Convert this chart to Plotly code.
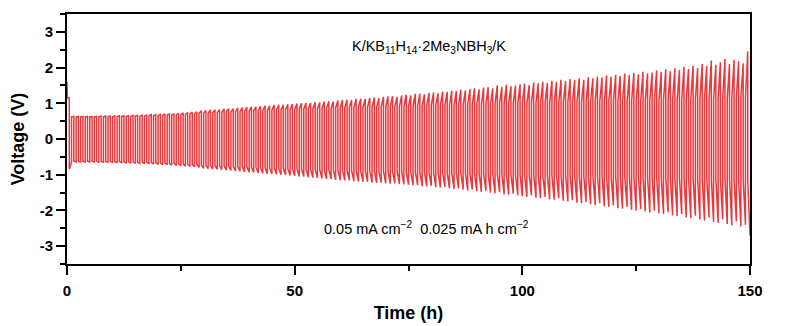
import plotly.graph_objects as go

# ---- data ----
period_h = 1.0          # one charge/discharge cycle (h)
lead_t = [0.0, 0.08]    # initial spike before cycling
lead_v = [1.60, 1.15]

# positive half-cycle: start (plateau) and end (peak) voltage per cycle
up_start = [
    1.15, 0.62, 0.62, 0.62, 0.62, 0.62, 0.62, 0.62, 0.62, 0.62,
    0.62, 0.63, 0.63, 0.63, 0.63, 0.64, 0.64, 0.64, 0.65, 0.65,
    0.66, 0.66, 0.67, 0.67, 0.68, 0.68, 0.69, 0.70, 0.70, 0.72,
    0.72, 0.73, 0.74, 0.74, 0.75, 0.76, 0.76, 0.77, 0.77, 0.78,
    0.78, 0.79, 0.79, 0.80, 0.80, 0.81, 0.81, 0.82, 0.82, 0.83,
    0.83, 0.84, 0.84, 0.85, 0.85, 0.85, 0.86, 0.86, 0.86, 0.87,
    0.87, 0.87, 0.88, 0.88, 0.88, 0.89, 0.89, 0.89, 0.90, 0.90,
    0.90, 0.91, 0.91, 0.91, 0.92, 0.92, 0.92, 0.93, 0.93, 0.93,
    0.94, 0.94, 0.94, 0.95, 0.95, 0.95, 0.96, 0.96, 0.96, 0.97,
    0.97, 0.97, 0.98, 0.98, 0.98, 0.99, 0.99, 0.99, 1.00, 1.00,
    1.00, 1.01, 1.01, 1.01, 1.02, 1.02, 1.02, 1.03, 1.03, 1.03,
    1.03, 1.04, 1.04, 1.04, 1.04, 1.05, 1.05, 1.05, 1.05, 1.06,
    1.06, 1.06, 1.06, 1.07, 1.07, 1.07, 1.07, 1.08, 1.08, 1.08,
    1.08, 1.09, 1.09, 1.09, 1.10, 1.10, 1.10, 1.11, 1.11, 1.11,
    1.12, 1.12, 1.12, 1.13, 1.13, 1.13, 1.14, 1.14, 1.15, 1.15,
]
up_end = [
    1.15, 0.63, 0.63, 0.63, 0.63, 0.63, 0.63, 0.64, 0.64, 0.64,
    0.64, 0.65, 0.65, 0.65, 0.66, 0.66, 0.67, 0.67, 0.68, 0.68,
    0.69, 0.70, 0.70, 0.71, 0.72, 0.73, 0.74, 0.75, 0.76, 0.79,
    0.80, 0.81, 0.82, 0.82, 0.84, 0.85, 0.85, 0.87, 0.88, 0.89,
    0.90, 0.90, 0.92, 0.93, 0.93, 0.95, 0.96, 0.96, 0.97, 0.98,
    0.99, 1.00, 1.01, 1.01, 1.03, 1.02, 1.05, 1.06, 1.05, 1.08,
    1.09, 1.10, 1.09, 1.12, 1.13, 1.12, 1.15, 1.16, 1.14, 1.18,
    1.19, 1.20, 1.18, 1.22, 1.24, 1.22, 1.26, 1.27, 1.25, 1.29,
    1.30, 1.28, 1.33, 1.32, 1.35, 1.34, 1.38, 1.36, 1.40, 1.42,
    1.39, 1.44, 1.45, 1.42, 1.50, 1.46, 1.52, 1.48, 1.50, 1.53,
    1.55, 1.51, 1.58, 1.56, 1.60, 1.57, 1.63, 1.60, 1.66, 1.62,
    1.68, 1.65, 1.70, 1.66, 1.73, 1.70, 1.75, 1.72, 1.78, 1.74,
    1.80, 1.76, 1.83, 1.79, 1.85, 1.81, 1.88, 1.84, 1.86, 1.92,
    1.88, 1.95, 1.90, 1.98, 1.93, 2.02, 1.96, 2.05, 1.99, 2.10,
    2.04, 2.20, 2.08, 2.15, 2.24, 2.10, 2.22, 2.18, 2.12, 2.45,
]
# negative half-cycle: start (plateau) and end (tip) voltage per cycle
dn_start = [
    -0.85, -0.62, -0.62, -0.62, -0.62, -0.62, -0.62, -0.63, -0.63, -0.63,
    -0.63, -0.63, -0.64, -0.64, -0.64, -0.65, -0.65, -0.65, -0.66, -0.66,
    -0.67, -0.67, -0.68, -0.68, -0.69, -0.69, -0.70, -0.71, -0.71, -0.73,
    -0.73, -0.74, -0.74, -0.75, -0.75, -0.76, -0.77, -0.77, -0.78, -0.78,
    -0.79, -0.79, -0.80, -0.80, -0.81, -0.81, -0.82, -0.82, -0.83, -0.83,
    -0.84, -0.84, -0.85, -0.85, -0.85, -0.86, -0.86, -0.86, -0.87, -0.87,
    -0.87, -0.88, -0.88, -0.88, -0.89, -0.89, -0.89, -0.90, -0.90, -0.90,
    -0.91, -0.91, -0.91, -0.92, -0.92, -0.92, -0.93, -0.93, -0.93, -0.94,
    -0.94, -0.94, -0.95, -0.95, -0.95, -0.96, -0.96, -0.96, -0.97, -0.97,
    -0.97, -0.98, -0.98, -0.98, -0.99, -0.99, -0.99, -1.00, -1.00, -1.00,
    -1.01, -1.01, -1.01, -1.02, -1.02, -1.02, -1.03, -1.03, -1.03, -1.03,
    -1.04, -1.04, -1.04, -1.04, -1.05, -1.05, -1.05, -1.05, -1.06, -1.06,
    -1.06, -1.06, -1.07, -1.07, -1.07, -1.07, -1.08, -1.08, -1.08, -1.08,
    -1.09, -1.09, -1.09, -1.10, -1.10, -1.10, -1.10, -1.11, -1.11, -1.11,
    -1.12, -1.12, -1.12, -1.13, -1.13, -1.13, -1.14, -1.14, -1.15, -1.15,
]
dn_end = [
    -0.64, -0.64, -0.64, -0.64, -0.64, -0.64, -0.65, -0.65, -0.65, -0.65,
    -0.66, -0.66, -0.67, -0.67, -0.68, -0.68, -0.69, -0.69, -0.70, -0.71,
    -0.72, -0.72, -0.73, -0.74, -0.75, -0.76, -0.77, -0.78, -0.80, -0.82,
    -0.83, -0.84, -0.85, -0.86, -0.87, -0.88, -0.89, -0.90, -0.92, -0.93,
    -0.94, -0.95, -0.96, -0.97, -0.98, -0.99, -1.00, -1.01, -1.02, -1.03,
    -1.05, -1.05, -1.07, -1.08, -1.09, -1.10, -1.12, -1.12, -1.14, -1.15,
    -1.16, -1.16, -1.18, -1.19, -1.20, -1.20, -1.22, -1.23, -1.22, -1.24,
    -1.25, -1.24, -1.26, -1.27, -1.28, -1.30, -1.29, -1.32, -1.33, -1.31,
    -1.35, -1.36, -1.34, -1.38, -1.40, -1.38, -1.42, -1.44, -1.41, -1.46,
    -1.48, -1.45, -1.50, -1.52, -1.49, -1.55, -1.56, -1.53, -1.58, -1.60,
    -1.62, -1.58, -1.64, -1.66, -1.62, -1.69, -1.70, -1.66, -1.73, -1.75,
    -1.71, -1.78, -1.80, -1.76, -1.83, -1.85, -1.80, -1.88, -1.90, -1.86,
    -1.93, -1.95, -1.90, -1.98, -2.00, -1.96, -2.03, -2.06, -2.01, -2.08,
    -2.10, -2.05, -2.14, -2.16, -2.10, -2.20, -2.22, -2.15, -2.25, -2.28,
    -2.20, -2.32, -2.35, -2.25, -2.38, -2.42, -2.30, -2.45, -2.40, -2.70,
]

x_ticks = [0, 50, 100, 150]
x_ticklabels = ["0", "50", "100", "150"]
y_ticks = [-3, -2, -1, 0, 1, 2, 3]
y_ticklabels = ["-3", "-2", "-1", "0", "1", "2", "3"]
cell_label = "K/KB<sub>11</sub>H<sub>14</sub>·2Me<sub>3</sub>NBH<sub>3</sub>/K"
cond_label = "0.05 mA cm<sup>−2</sup>  0.025 mA h cm<sup>−2</sup>"

# ---- build the voltage trace ----
ts = list(lead_t)
vs = list(lead_v)
half = period_h / 2
for k in range(len(up_start)):
    t0 = k * period_h
    if k > 0:
        ts.append(t0); vs.append(up_start[k])
    ts.append(t0 + half); vs.append(up_end[k])
    ts.append(t0 + half); vs.append(dn_start[k])
    ts.append(t0 + period_h); vs.append(dn_end[k])

RED = "#e63a3f"
fig = go.Figure()
fig.add_trace(go.Scatter(x=ts, y=vs, mode="lines",
                         line=dict(color=RED, width=1.5), showlegend=False,
                         hoverinfo="skip"))

FONT = "Liberation Sans, Arial, sans-serif"
axis_common = dict(
    showline=True, linecolor="black", linewidth=2, mirror=True,
    ticks="outside", ticklen=9, tickwidth=1.5, tickcolor="black",
    showgrid=False, zeroline=False, automargin=False,
    tickfont=dict(family=FONT, size=15, color="black", weight="bold"),
)
fig.update_xaxes(range=[0, 150], tickvals=x_ticks, ticktext=x_ticklabels,
                 ticklabelstandoff=3,
                 minor=dict(dtick=25, tick0=0, ticks="outside", ticklen=5,
                            tickwidth=1.5, tickcolor="black"),
                 title=dict(text="Time (h)", standoff=8,
                            font=dict(family=FONT, size=18, color="black",
                                      weight="bold")),
                 **axis_common)
fig.update_yaxes(range=[-3.5, 3.5], tickvals=y_ticks, ticktext=y_ticklabels,
                 minor=dict(dtick=0.5, tick0=0, ticks="outside", ticklen=5,
                            tickwidth=1.5, tickcolor="black"),
                 title=dict(text="Voltage (V)", standoff=14,
                            font=dict(family=FONT, size=18, color="black",
                                      weight="bold")),
                 **axis_common)

fig.add_annotation(x=79.5, y=2.58, text=cell_label, showarrow=False,
                   font=dict(family=FONT, size=14.5, color="black"))
fig.add_annotation(x=79.0, y=-2.49, text=cond_label, showarrow=False,
                   font=dict(family=FONT, size=14.5, color="black"))

# page body adds an 8 px offset, so the figure is sized/margined to match
fig.update_layout(width=777, height=318,
                  margin=dict(l=59, r=35, t=6, b=62),
                  plot_bgcolor="white", paper_bgcolor="white")

fig.write_html("out.html")
